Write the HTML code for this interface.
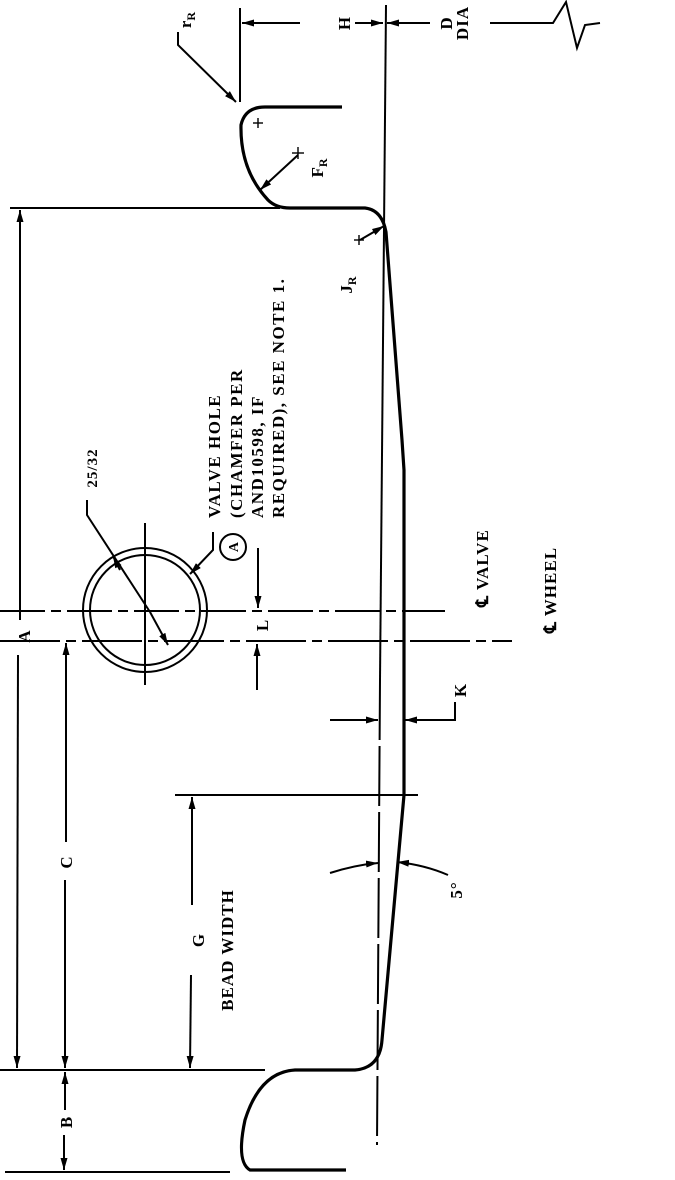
<!DOCTYPE html>
<html><head><meta charset="utf-8"><style>html,body{margin:0;padding:0;background:#fff}</style></head>
<body>
<svg width="675" height="1175" viewBox="0 0 675 1175" xmlns="http://www.w3.org/2000/svg" font-family="Liberation Serif, serif" font-weight="bold" fill="#000">
<defs><marker id="ar" markerWidth="12" markerHeight="7" refX="12" refY="3.5" orient="auto" markerUnits="userSpaceOnUse"><path d="M0,0 L12,3.5 L0,7 z"/></marker></defs>
<g stroke="#000" fill="none" stroke-width="2">
<line x1="240" y1="8" x2="240" y2="102"/>
<line x1="300" y1="23" x2="242" y2="23" marker-end="url(#ar)"/>
<line x1="355" y1="23" x2="383" y2="23" marker-end="url(#ar)"/>
<line x1="430" y1="23" x2="387" y2="23" marker-end="url(#ar)"/>
<polyline points="490,23 553,23 566,2 577,48 585,25 600,23"/>
<line x1="386" y1="5" x2="380" y2="680"/>
<line x1="380" y1="680" x2="377" y2="1145" stroke-dasharray="60,6"/>
<polyline points="178,32 178,45 236,102" marker-end="url(#ar)"/>
<line x1="298" y1="155" x2="260" y2="190" marker-end="url(#ar)"/>
<line x1="360" y1="240" x2="384" y2="226" marker-end="url(#ar)" />
<line x1="10" y1="208" x2="280" y2="208"/>
<line x1="0" y1="1070" x2="265" y2="1070"/>
<line x1="5" y1="1172" x2="230" y2="1172"/>
<line x1="20" y1="620" x2="20" y2="210" marker-end="url(#ar)"/>
<line x1="18" y1="655" x2="17" y2="1068" marker-end="url(#ar)"/>
<line x1="66" y1="842" x2="66" y2="643" marker-end="url(#ar)"/>
<line x1="65" y1="880" x2="65" y2="1068" marker-end="url(#ar)"/>
<line x1="65" y1="1110" x2="65" y2="1072" marker-end="url(#ar)"/>
<line x1="64" y1="1135" x2="64" y2="1170" marker-end="url(#ar)"/>
<line x1="0" y1="611" x2="445" y2="611" stroke-dasharray="45,6,10,6"/>
<line x1="0" y1="641" x2="512" y2="641" stroke-dasharray="60,6,10,6"/>
<line x1="145" y1="523" x2="145" y2="685"/>
<circle cx="145" cy="610" r="62"/>
<circle cx="145" cy="610" r="55"/>
<polyline points="87,500 87,515 150,612"/>
<line x1="150" y1="612" x2="168" y2="645" marker-end="url(#ar)"/>
<line x1="120" y1="570" x2="113" y2="556" marker-end="url(#ar)"/>
<polyline points="213,532 213,550 192,572" />
<line x1="197" y1="567" x2="190" y2="574" marker-end="url(#ar)"/>
<circle cx="233" cy="547" r="13"/>
<line x1="258" y1="548" x2="258" y2="608" marker-end="url(#ar)"/>
<line x1="257" y1="690" x2="257" y2="644" marker-end="url(#ar)"/>
<line x1="330" y1="720" x2="378" y2="720" marker-end="url(#ar)"/>
<polyline points="455,702 455,720 405,720" marker-end="url(#ar)"/>
<line x1="175" y1="795" x2="418" y2="795"/>
<line x1="192" y1="905" x2="192" y2="797" marker-end="url(#ar)"/>
<line x1="191" y1="975" x2="190" y2="1068" marker-end="url(#ar)"/>
<path d="M330,873 Q355,865 378,863" marker-end="url(#ar)"/>
<path d="M448,875 Q425,865 397,862" marker-end="url(#ar)"/>
</g>
<path d="M342,107 L265,107 Q245,107 241,125 Q240,170 268,200 Q276,208 290,208 L365,208 Q382,210 386,232 L402,440 L404,470 L404,795 L382,1040 Q380,1068 355,1070 L295,1070 Q260,1072 245,1120 Q236,1162 250,1170 L346,1170" fill="none" stroke="#000" stroke-width="3.2"/>
<g stroke="#000" stroke-width="1.4">
<line x1="253" y1="123" x2="263" y2="123"/><line x1="258" y1="118" x2="258" y2="128"/>
<line x1="292" y1="153" x2="304" y2="153"/><line x1="298" y1="147" x2="298" y2="159"/>
<line x1="354" y1="240" x2="364" y2="240"/><line x1="359" y1="235" x2="359" y2="245"/>
</g>
<g font-size="17" text-anchor="middle" letter-spacing="1">
<text transform="translate(344,23) rotate(-90)" dy="6">H</text>
<text transform="translate(452,23) rotate(-90)">D</text>
<text transform="translate(468,23) rotate(-90)">DIA</text>
<text transform="translate(24,636) rotate(-90)" dy="6">A</text>
<text transform="translate(66,862) rotate(-90)" dy="6">C</text>
<text transform="translate(66,1122) rotate(-90)" dy="6">B</text>
<text transform="translate(198,940) rotate(-90)" dy="6">G</text>
<text transform="translate(227,950) rotate(-90)" dy="6">BEAD WIDTH</text>
<text transform="translate(262,625) rotate(-90)" dy="6">L</text>
<text transform="translate(460,690) rotate(-90)" dy="6">K</text>
<text transform="translate(456,890) rotate(-90)" dy="6">5°</text>
<text transform="translate(92,468) rotate(-90)" dy="5" font-size="15">25/32</text>
<text transform="translate(233,547) rotate(-90)" dy="5" font-size="14" letter-spacing="0">A</text>
<text transform="translate(482,568) rotate(-90)" dy="6">℄ VALVE</text>
<text transform="translate(550,590) rotate(-90)" dy="6">℄ WHEEL</text>
<text transform="translate(186,20) rotate(-90)" dy="5" letter-spacing="0">r<tspan font-size="12" dy="4">R</tspan></text>
<text transform="translate(318,168) rotate(-90)" dy="5" letter-spacing="0">F<tspan font-size="12" dy="4">R</tspan></text>
<text transform="translate(347,285) rotate(-90)" dy="5" letter-spacing="0">J<tspan font-size="12" dy="4">R</tspan></text>
</g>
<g font-size="17" text-anchor="start" letter-spacing="1.5">
<text transform="translate(220,518) rotate(-90)">VALVE HOLE</text>
<text transform="translate(242,518) rotate(-90)">(CHAMFER PER</text>
<text transform="translate(263,518) rotate(-90)">AND10598,  IF</text>
<text transform="translate(284,518) rotate(-90)">REQUIRED),  SEE NOTE 1.</text>
</g>
</svg>
</body></html>
